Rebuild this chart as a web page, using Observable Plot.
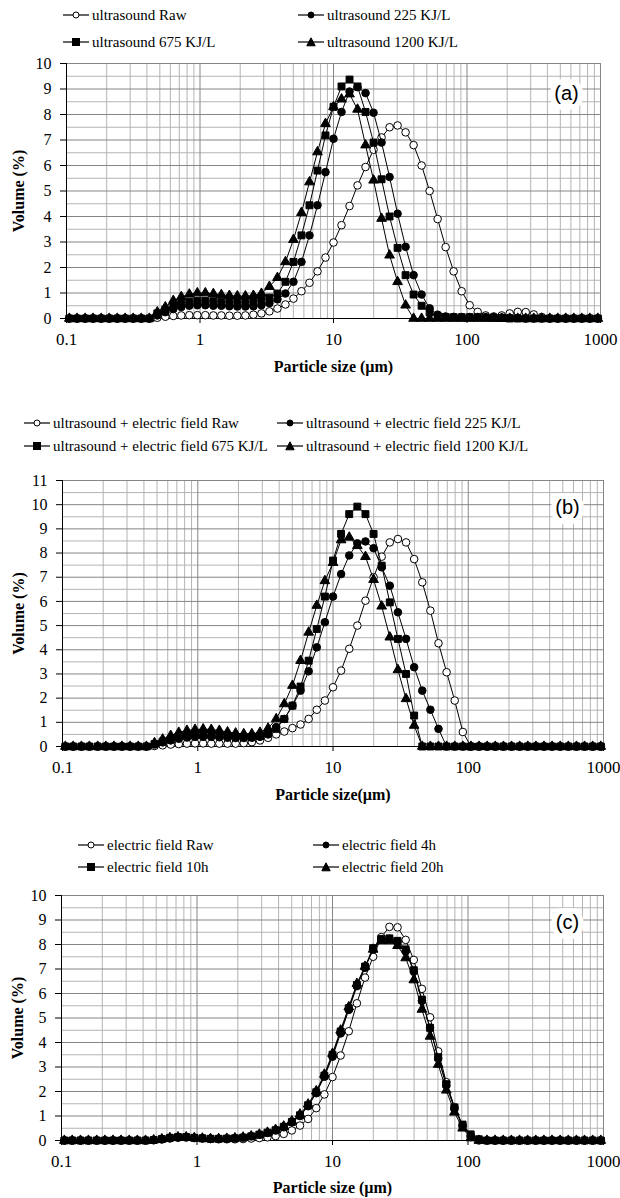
<!DOCTYPE html>
<html><head><meta charset="utf-8">
<script src="https://cdn.jsdelivr.net/npm/d3@7"></script>
<script src="https://cdn.jsdelivr.net/npm/@observablehq/plot@0.6"></script>
<style>
html,body{margin:0;padding:0;background:#fff;}
#root{position:relative;width:620px;height:1198px;overflow:hidden;font-family:"Liberation Serif","Times New Roman",serif;color:#000;}
.panel{position:absolute;left:0;}
.leg{position:absolute;display:flex;align-items:center;height:16px;font-size:15px;white-space:nowrap;line-height:16px;}
.leg svg{display:block;margin-right:3px;flex:none;}
</style></head><body><div id="root"></div>
<script>
// Particle size classes (µm)
const sizes = [0.105,0.120,0.138,0.158,0.182,0.209,0.240,0.275,0.316,0.363,
0.417,0.479,0.550,0.631,0.724,0.832,0.955,1.096,1.259,1.445,
1.660,1.905,2.188,2.512,2.884,3.311,3.802,4.365,5.012,5.754,
6.607,7.586,8.710,10.000,11.482,13.183,15.136,17.378,19.953,22.909,
26.303,30.200,34.674,39.811,45.709,52.481,60.256,69.183,79.433,91.201,
104.713,120.226,138.038,158.489,181.970,208.930,239.883,275.423,316.228,363.078,
416.869,478.630,549.541,630.957,724.436,831.764,954.993];

// (a) ultrasound
const usRaw = [0,0,0,0,0,0,0,0,0,0,
0,0.03,0.07,0.10,0.12,0.13,0.13,0.13,0.12,0.12,
0.11,0.11,0.12,0.15,0.20,0.28,0.39,0.55,0.78,1.07,
1.40,1.85,2.39,2.98,3.66,4.41,5.22,5.94,6.62,7.10,
7.50,7.57,7.30,6.80,6.00,5.00,3.90,2.80,1.85,1.07,
0.52,0.26,0.12,0.08,0.12,0.20,0.26,0.25,0.16,0.06,
0,0,0,0,0,0,0];
const us225 = [0,0,0,0,0,0,0,0,0,0,
0,0.12,0.25,0.37,0.45,0.50,0.52,0.52,0.50,0.50,
0.48,0.47,0.47,0.48,0.52,0.60,0.75,0.98,1.44,2.22,
3.26,4.44,5.74,7.05,8.10,8.90,9.07,8.84,8.07,6.90,
5.55,4.11,2.81,1.70,0.94,0.40,0.15,0.08,0.06,0.05,
0.05,0.05,0.05,0.05,0.04,0.03,0.02,0,0,0,
0,0,0,0,0,0,0];
const us675 = [0,0,0,0,0,0,0,0,0,0,
0,0.20,0.35,0.50,0.60,0.66,0.70,0.70,0.68,0.66,
0.65,0.64,0.64,0.66,0.72,0.82,0.98,1.44,2.22,3.26,
4.44,5.80,7.18,8.30,9.10,9.37,9.10,8.10,6.90,5.46,
4.00,2.77,1.70,0.94,0.50,0.24,0.10,0.06,0.05,0.05,
0.05,0.05,0.04,0.03,0.02,0,0,0,0,0,
0,0,0,0,0,0,0];
const us1200 = [0,0,0,0,0,0,0,0,0,0,
0,0.25,0.45,0.70,0.85,0.95,1.00,1.00,0.97,0.93,
0.90,0.88,0.88,0.90,0.98,1.25,1.60,2.22,3.09,4.15,
5.35,6.53,7.64,8.30,8.60,8.80,8.20,6.80,5.42,3.92,
2.48,1.44,0.52,0,0,0,0,0,0,0,
0,0,0,0,0,0,0,0,0,0,
0,0,0,0,0,0,0];

// (b) ultrasound + electric field
const uefRaw = [0,0,0,0,0,0,0,0,0,0,
0,0.02,0.05,0.08,0.10,0.12,0.13,0.13,0.12,0.12,
0.12,0.12,0.14,0.18,0.25,0.36,0.50,0.62,0.76,0.91,
1.14,1.52,1.90,2.45,3.14,4.04,5.00,6.03,7.00,7.85,
8.44,8.58,8.44,7.75,6.79,5.62,4.27,3.07,1.90,0.60,
0,0,0,0,0,0,0,0,0,0,
0,0,0,0,0,0,0];
const uef225 = [0,0,0,0,0,0,0,0,0,0,
0,0.08,0.17,0.25,0.32,0.37,0.40,0.40,0.40,0.38,
0.36,0.35,0.35,0.36,0.40,0.50,0.80,1.14,1.69,2.31,
3.11,4.10,5.14,6.20,7.13,7.90,8.40,8.48,8.20,7.41,
6.65,5.55,4.45,3.28,2.31,1.52,0.73,0,0,0,
0,0,0,0,0,0,0,0,0,0,
0,0,0,0,0,0,0];
const uef675 = [0,0,0,0,0,0,0,0,0,0,
0,0.10,0.20,0.30,0.40,0.45,0.47,0.47,0.47,0.45,
0.42,0.40,0.40,0.40,0.45,0.55,0.73,1.14,1.69,2.48,
3.55,4.86,6.20,7.69,8.79,9.61,9.92,9.61,8.79,7.48,
5.96,4.45,3.00,1.28,0,0,0,0,0,0,
0,0,0,0,0,0,0,0,0,0,
0,0,0,0,0,0,0];
const uef1200 = [0,0,0,0,0,0,0,0,0,0,
0,0.15,0.30,0.45,0.58,0.66,0.70,0.72,0.70,0.66,
0.60,0.55,0.52,0.52,0.58,0.75,1.14,1.76,2.52,3.55,
4.72,5.83,6.85,7.60,8.54,8.65,8.30,7.85,6.90,5.80,
4.52,3.17,1.97,0.87,0,0,0,0,0,0,
0,0,0,0,0,0,0,0,0,0,
0,0,0,0,0,0,0];

// (c) electric field
const efRaw = [0,0,0,0,0,0,0,0,0,0,
0,0.01,0.04,0.08,0.11,0.12,0.10,0.08,0.06,0.05,
0.05,0.05,0.06,0.08,0.10,0.13,0.18,0.27,0.41,0.61,
0.88,1.32,1.88,2.59,3.47,4.46,5.60,6.65,7.50,8.30,
8.72,8.70,8.19,7.37,6.19,5.03,3.64,2.38,1.36,0.62,
0.14,0,0,0,0,0,0,0,0,0,
0,0,0,0,0,0,0];
const ef4h = [0,0,0,0,0,0,0,0,0,0,
0,0.02,0.06,0.11,0.14,0.14,0.11,0.09,0.07,0.07,
0.08,0.09,0.12,0.17,0.23,0.31,0.41,0.54,0.74,1.00,
1.40,1.93,2.60,3.42,4.37,5.33,6.30,7.05,7.80,8.20,
8.23,8.12,7.72,6.90,5.70,4.60,3.35,2.25,1.30,0.60,
0.20,0.04,0,0,0,0,0,0,0,0,
0,0,0,0,0,0,0];
const ef10h = [0,0,0,0,0,0,0,0,0,0,
0,0.02,0.06,0.11,0.14,0.14,0.11,0.09,0.07,0.07,
0.08,0.09,0.12,0.17,0.24,0.32,0.42,0.56,0.76,1.03,
1.44,1.97,2.65,3.50,4.45,5.40,6.35,7.10,7.85,8.22,
8.25,8.15,7.80,6.95,5.75,4.60,3.40,2.30,1.35,0.65,
0.25,0.05,0,0,0,0,0,0,0,0,
0,0,0,0,0,0,0];
const ef20h = [0,0,0,0,0,0,0,0,0,0,
0,0.02,0.06,0.11,0.14,0.14,0.11,0.09,0.07,0.07,
0.08,0.10,0.13,0.18,0.25,0.33,0.44,0.58,0.79,1.07,
1.48,2.02,2.70,3.55,4.50,5.45,6.40,7.10,7.80,8.15,
8.15,7.95,7.45,6.55,5.35,4.25,3.10,2.05,1.15,0.50,
0.10,0,0,0,0,0,0,0,0,0,
0,0,0,0,0,0,0];

const namesA = ["ultrasound Raw","ultrasound 225 KJ/L","ultrasound 675 KJ/L","ultrasound 1200 KJ/L"];
const namesB = ["ultrasound + electric field Raw","ultrasound + electric field 225 KJ/L","ultrasound + electric field 675 KJ/L","ultrasound + electric field 1200 KJ/L"];
const namesC = ["electric field Raw","electric field 4h","electric field 10h","electric field 20h"];
const xTickValues = [0.1, 1, 10, 100, 1000];
const yLabel = "Volume (%)";

const SERIF = "Liberation Serif";
const SANS = "Liberation Sans";

const symbols = [
  {symbol:"circle", fill:"white", r:3.8},
  {symbol:"circle", fill:"black", r:3.8},
  {symbol:"square", fill:"black", r:3.9},
  {symbol:"triangle", fill:"black", r:3.6}
];

const root = document.getElementById("root");
const xMinor = [0.1,1,10,100].flatMap(d => d3.range(2,10).map(k => +(k*d).toPrecision(3)));

function swatch(i){
  const ns = "http://www.w3.org/2000/svg";
  const s = document.createElementNS(ns,"svg");
  s.setAttribute("width",26); s.setAttribute("height",12);
  const l = document.createElementNS(ns,"line");
  l.setAttribute("x1",0);l.setAttribute("x2",26);l.setAttribute("y1",6);l.setAttribute("y2",6);
  l.setAttribute("stroke","black");l.setAttribute("stroke-width",1.2);
  s.appendChild(l);
  let m;
  if (i===0 || i===1){ m=document.createElementNS(ns,"circle"); m.setAttribute("cx",13);m.setAttribute("cy",6);m.setAttribute("r",3); }
  else if (i===2){ m=document.createElementNS(ns,"rect"); m.setAttribute("x",9.5);m.setAttribute("y",2.5);m.setAttribute("width",7);m.setAttribute("height",7); }
  else { m=document.createElementNS(ns,"path"); m.setAttribute("d","M13,1.8L17.2,9.8L8.8,9.8Z"); }
  m.setAttribute("fill", i===0 ? "white" : "black"); m.setAttribute("stroke","black"); m.setAttribute("stroke-width",1);
  s.appendChild(m);
  return s;
}

function legend(names, pos){
  names.forEach((n,i)=>{
    const d = document.createElement("div");
    d.className="leg";
    d.style.left = pos[i][0]+"px";
    d.style.top = (pos[i][1]-8)+"px";
    d.appendChild(swatch(i));
    const sp = document.createElement("span"); sp.textContent = n; d.appendChild(sp);
    root.appendChild(d);
  });
}

function panel(cfg){
  const {top, height, ml, mr, mt, mb, ymax, series, tag, tagDx, tagDy, ylabDx, xlab, xlabDy, xTickPad} = cfg;
  const yMajor = d3.range(0, ymax+0.5, 1);
  const yMinor = d3.range(0.5, ymax, 1);
  const marks = [
    Plot.ruleX(xMinor, {stroke:"#b4b4b4", strokeWidth:1}),
    Plot.ruleY(yMinor, {stroke:"#b4b4b4", strokeWidth:1}),
    Plot.ruleY(yMajor, {stroke:"#868686", strokeWidth:1}),
    Plot.ruleX(xTickValues, {stroke:"#868686", strokeWidth:1}),
    Plot.text([tag], {frameAnchor:"top-right", dx:tagDx, dy:tagDy, textAnchor:"middle", lineAnchor:"middle",
      fontFamily:SANS, fontSize:20, fill:"black", stroke:"white", strokeWidth:11, strokeLinejoin:"miter", paintOrder:"stroke"}),
    Plot.ruleX([0.1], {stroke:"black", strokeWidth:1}),
    Plot.ruleY([0], {stroke:"black", strokeWidth:1}),
    Plot.axisY({ticks: yMajor, tickSize:6, tickPadding:9, fontSize:16, fontFamily:SERIF, label:null, tickFormat:d=>String(d)}),
    Plot.axisX({ticks: xTickValues, tickSize:5, tickPadding:xTickPad, fontSize:17, fontFamily:SERIF, label:null, tickFormat:d=>String(d)}),
    Plot.text([yLabel], {frameAnchor:"left", dx:ylabDx, rotate:-90, textAnchor:"middle", lineAnchor:"middle", fontFamily:SERIF, fontWeight:"bold", fontSize:16}),
    Plot.text([xlab], {frameAnchor:"bottom", dy:xlabDy, textAnchor:"middle", lineAnchor:"middle", fontFamily:SERIF, fontWeight:"bold", fontSize:16})
  ];
  series.forEach((vals, i) => {
    const d = sizes.map((x, k) => ({x, y: vals[k]}));
    marks.push(Plot.line(d, {x:"x", y:"y", stroke:"black", strokeWidth:1}));
    marks.push(Plot.dot(d, {x:"x", y:"y", symbol:symbols[i].symbol, r:symbols[i].r, fill:symbols[i].fill, stroke:"black", strokeWidth:1}));
  });
  const svg = Plot.plot({
    width: 620, height,
    marginLeft: ml, marginRight: mr, marginTop: mt, marginBottom: mb,
    x: {type:"log", domain:[0.1, 1000], label:null},
    y: {domain:[0, ymax], label:null},
    style: {fontFamily:"'Liberation Serif', serif", background:"transparent", color:"black", overflow:"visible"},
    marks
  });
  svg.classList.add("panel");
  svg.style.top = top+"px";
  root.appendChild(svg);
}

legend(namesA, [[63,15],[298,15],[63,42],[298,42]]);
panel({top:50, height:330, ml:66, mr:20, mt:13, mb:62, ymax:10, series:[usRaw,us225,us675,us1200],
  tag:"(a)", tagDx:-34, tagDy:30, ylabDx:-48, xlab:"Particle size (µm)", xlabDy:48, xTickPad:9});

legend(namesB, [[24,423],[277,423],[24,446],[277,446]]);
panel({top:465, height:345, ml:62, mr:17, mt:15, mb:64, ymax:11, series:[uefRaw,uef225,uef675,uef1200],
  tag:"(b)", tagDx:-36, tagDy:27, ylabDx:-44, xlab:"Particle size(µm)", xlabDy:48, xTickPad:9});

legend(namesC, [[78,845],[313,845],[78,867],[313,867]]);
panel({top:880, height:318, ml:61, mr:17, mt:15, mb:58, ymax:10, series:[efRaw,ef4h,ef10h,ef20h],
  tag:"(c)", tagDx:-36, tagDy:27, ylabDx:-44, xlab:"Particle size (µm)", xlabDy:47, xTickPad:9});
</script></body></html>
